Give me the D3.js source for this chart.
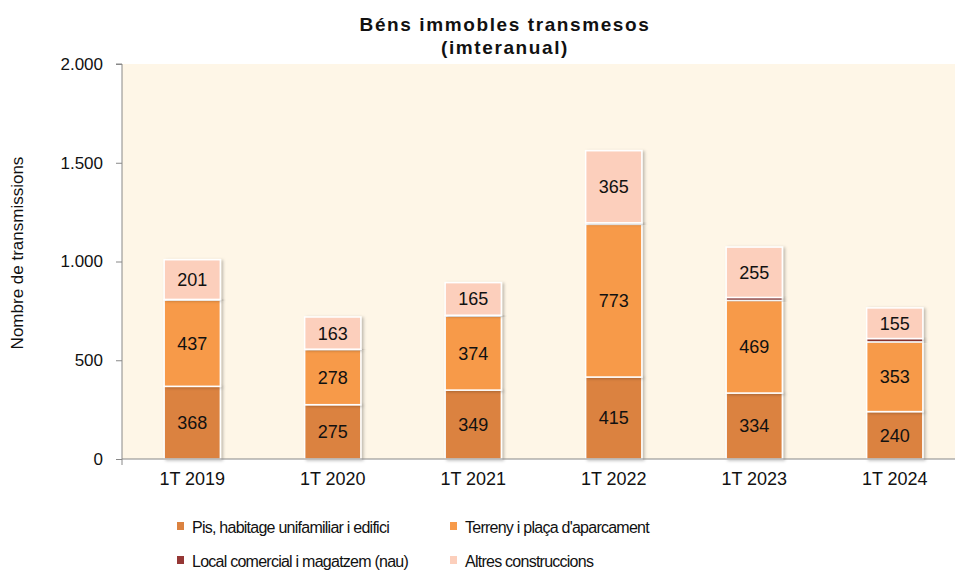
<!DOCTYPE html>
<html>
<head>
<meta charset="utf-8">
<script src="https://cdn.jsdelivr.net/npm/d3@7"></script>
<style>
  body { margin: 0; background: #fff; }
  svg { display: block; font-family: "Liberation Sans", Arial, sans-serif; }
</style>
</head>
<body>
<svg id="chart" width="955" height="572"></svg>
<script>
// dades llegides del gràfic
let periods = ["1T 2019", "1T 2020", "1T 2021", "1T 2022", "1T 2023", "1T 2024"];
let pis = [368, 275, 349, 415, 334, 240];
let terreny = [437, 278, 374, 773, 469, 353];
let local = [3, 3, 5, 8, 15, 17];
let altres = [201, 163, 165, 365, 255, 155];
let seriesNames = ["Pis, habitage unifamiliar i edifici", "Terreny i plaça d'aparcament",
                   "Local comercial i magatzem (nau)", "Altres construccions"];
let yTicks = [0, 500, 1000, 1500, 2000];

let colors = ["#db8240", "#f79a4a", "#953735", "#fccfbc"];

let svg = d3.select("#chart");
let margin = {left: 122, top: 64, right: -10, bottom: 113};
let width = 955 - margin.left - margin.right;
let height = 572 - margin.top - margin.bottom;

let defs = svg.append("defs");
let shadow = defs.append("filter").attr("id", "shadow")
    .attr("x", "-20%").attr("y", "-20%").attr("width", "150%").attr("height", "150%");
shadow.append("feDropShadow").attr("dx", 2).attr("dy", 1).attr("stdDeviation", 1.5)
    .attr("flood-color", "#000").attr("flood-opacity", 0.25);

let g = svg.append("g").attr("transform", `translate(${margin.left},${margin.top})`);

g.append("rect").attr("width", width).attr("height", height).attr("fill", "#fef6e7");

let x = d3.scaleBand().domain(periods).range([0, width]).paddingInner(0.6).paddingOuter(0.3);
let y = d3.scaleLinear().domain([0, 2000]).range([height, 0]);

// apilament
let rows = periods.map((p, i) => ({period: p, s0: pis[i], s1: terreny[i], s2: local[i], s3: altres[i]}));
let stack = d3.stack().keys(["s0", "s1", "s2", "s3"])(rows);

let layers = g.selectAll(".layer").data(stack).enter().append("g")
    .attr("class", "layer")
    .attr("fill", (d, i) => colors[i]);

layers.selectAll("rect").data(d => d).enter().append("rect")
    .attr("x", d => x(d.data.period))
    .attr("y", d => y(d[1]))
    .attr("width", x.bandwidth())
    .attr("height", d => Math.max(0, y(d[0]) - y(d[1])))
    .attr("stroke", "#fff")
    .attr("stroke-width", 1.5)
    .attr("filter", "url(#shadow)");

// etiquetes de valor (no per al local comercial)
[0, 1, 3].forEach(k => {
    g.selectAll(".lbl" + k).data(stack[k]).enter().append("text")
        .attr("x", d => x(d.data.period) + x.bandwidth() / 2)
        .attr("y", d => (y(d[0]) + y(d[1])) / 2)
        .attr("dy", "0.36em")
        .attr("text-anchor", "middle")
        .attr("font-size", 18)
        .attr("fill", "#111")
        .text(d => d[1] - d[0]);
});

// eixos
let yAxis = g.append("g")
    .call(d3.axisLeft(y).tickValues(yTicks).tickSize(6).tickPadding(13)
        .tickFormat(d => d3.format(",")(d).replace(/,/g, ".")));
yAxis.select(".domain").attr("stroke", "#888").attr("d", `M-6,0H0V${height}`);
yAxis.selectAll(".tick line").attr("stroke", "#888");
yAxis.selectAll("text").attr("font-size", 17).attr("fill", "#111");

let xAxis = g.append("g").attr("transform", `translate(0,${height})`)
    .call(d3.axisBottom(x).tickSize(0).tickPadding(13));
xAxis.select(".domain").attr("stroke", "#888").attr("d", `M0,6V0H${width}`);
xAxis.selectAll("text").attr("font-size", 18).attr("fill", "#111");

// títol
svg.append("text").attr("x", 505).attr("y", 31).attr("text-anchor", "middle")
    .attr("font-size", 19).attr("font-weight", "bold").attr("letter-spacing", 1.6)
    .attr("fill", "#111")
    .text("Béns immobles transmesos");
svg.append("text").attr("x", 505).attr("y", 54).attr("text-anchor", "middle")
    .attr("font-size", 19).attr("font-weight", "bold").attr("letter-spacing", 1.6)
    .attr("fill", "#111")
    .text("(imteranual)");

svg.append("text")
    .attr("transform", "translate(23,253) rotate(-90)")
    .attr("text-anchor", "middle")
    .attr("font-size", 17).attr("fill", "#111")
    .text("Nombre de transmissions");

// llegenda
let legendPos = [[177, 527], [450, 527], [177, 561], [450, 561]];
let legend = svg.selectAll(".legend").data(seriesNames).enter().append("g")
    .attr("transform", (d, i) => `translate(${legendPos[i][0]},${legendPos[i][1]})`);
legend.append("rect").attr("x", 0).attr("y", -5).attr("width", 7).attr("height", 8)
    .attr("fill", (d, i) => colors[i]);
legend.append("text").attr("x", 15).attr("y", 0).attr("dy", "0.35em")
    .attr("font-size", 16).attr("letter-spacing", -0.75).attr("fill", "#111")
    .text(d => d);
</script>
</body>
</html>
